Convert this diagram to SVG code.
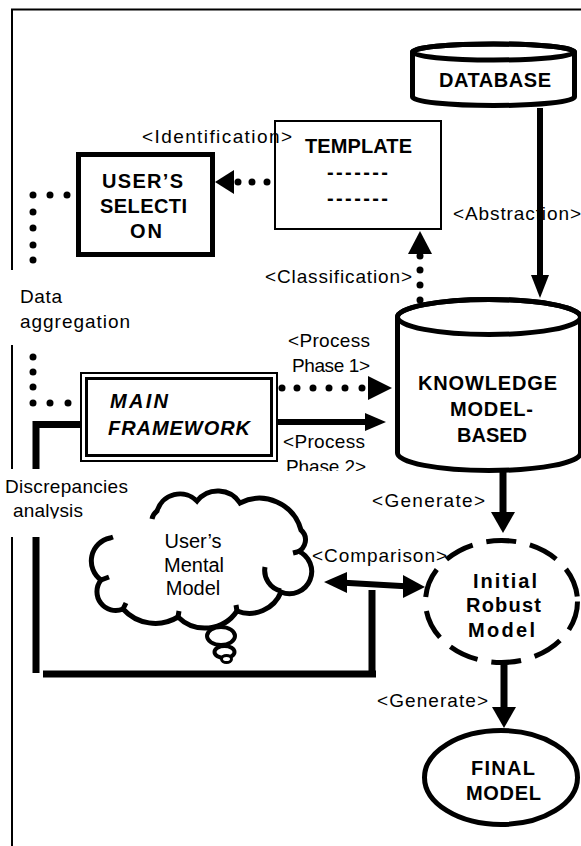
<svg xmlns="http://www.w3.org/2000/svg" width="581" height="846" viewBox="0 0 581 846">
<style>
.frame{stroke:#000;stroke-width:2;fill:none}
.thick{stroke:#000;stroke-width:7;fill:none}
.mid{stroke:#000;stroke-width:6;fill:none}
.ah{fill:#000}
.dot{fill:#000}
.lbl{font-family:"Liberation Sans",Arial,sans-serif;font-size:19px;fill:#000}
.cl{font-family:"Liberation Sans",Arial,sans-serif;font-size:20px;fill:#000}
.b{font-family:"Liberation Sans",Arial,sans-serif;font-size:20px;font-weight:bold;fill:#000}
.bi{font-family:"Liberation Sans",Arial,sans-serif;font-size:20px;font-weight:bold;font-style:italic;fill:#000}
</style>
<defs>
<clipPath id="clipP2"><rect x="270" y="450" width="120" height="21"/></clipPath>
<clipPath id="clipAn"><rect x="0" y="500" width="120" height="18.5"/></clipPath>
<clipPath id="clipMd"><rect x="440" y="618" width="120" height="20"/></clipPath>
</defs>
<rect width="581" height="846" fill="#fff"/>
<g id="frame">
<path class="frame" d="M12,270 V9.5 H581"/>
<line class="frame" x1="12" y1="345" x2="12" y2="469"/>
<line class="frame" x1="12" y1="537" x2="12" y2="846"/>
</g>
<g id="labels">
<text class="lbl" x="142" y="143" textLength="150" lengthAdjust="spacing">&lt;Identification&gt;</text>
<text class="lbl" x="453" y="220" textLength="128" lengthAdjust="spacing">&lt;Abstraction&gt;</text>
<text class="lbl" x="265" y="283" textLength="147" lengthAdjust="spacing">&lt;Classification&gt;</text>
<text class="lbl" x="20" y="303" textLength="42" lengthAdjust="spacing">Data</text>
<text class="lbl" x="20" y="328" textLength="110" lengthAdjust="spacing">aggregation</text>
<text class="lbl" x="288" y="347" textLength="82" lengthAdjust="spacing">&lt;Process</text>
<text class="lbl" x="292" y="372" textLength="78" lengthAdjust="spacing">Phase 1&gt;</text>
<text class="lbl" x="283" y="448" textLength="82" lengthAdjust="spacing">&lt;Process</text>
<text class="lbl" x="286" y="473" textLength="80" lengthAdjust="spacing" clip-path="url(#clipP2)">Phase 2&gt;</text>
<text class="lbl" x="5" y="493" textLength="123" lengthAdjust="spacing">Discrepancies</text>
<text class="lbl" x="13" y="517" textLength="70" lengthAdjust="spacing" clip-path="url(#clipAn)">analysis</text>
<text class="lbl" x="372" y="507" textLength="113" lengthAdjust="spacing">&lt;Generate&gt;</text>
<text class="lbl" x="312" y="562" textLength="135" lengthAdjust="spacing">&lt;Comparison&gt;</text>
<text class="lbl" x="377" y="707" textLength="111" lengthAdjust="spacing">&lt;Generate&gt;</text>
</g>
<g id="connectors">
<line class="mid" x1="540" y1="108" x2="540" y2="278"/>
<polygon class="ah" points="531,275 549,275 540,298"/>
<circle class="dot" cx="267" cy="182" r="3.5"/>
<circle class="dot" cx="252" cy="182" r="3.5"/>
<circle class="dot" cx="238" cy="182" r="3.5"/>
<polygon class="ah" points="234,170 234,194 215,182"/>
<circle class="dot" cx="420" cy="270" r="3.5"/>
<circle class="dot" cx="420" cy="285" r="3.5"/>
<circle class="dot" cx="420" cy="300" r="3.5"/>
<circle class="dot" cx="420" cy="256" r="3.5"/>
<polygon class="ah" points="408,254 432,254 420,231"/>
<circle class="dot" cx="67" cy="195" r="3.5"/>
<circle class="dot" cx="50" cy="195" r="3.5"/>
<circle class="dot" cx="33" cy="195" r="3.5"/>
<circle class="dot" cx="33" cy="212" r="3.5"/>
<circle class="dot" cx="33" cy="228" r="3.5"/>
<circle class="dot" cx="33" cy="245" r="3.5"/>
<circle class="dot" cx="33" cy="260" r="3.5"/>
<circle class="dot" cx="33" cy="357" r="3.5"/>
<circle class="dot" cx="33" cy="372" r="3.5"/>
<circle class="dot" cx="33" cy="387" r="3.5"/>
<circle class="dot" cx="33" cy="403" r="3.5"/>
<circle class="dot" cx="50" cy="403" r="3.5"/>
<circle class="dot" cx="68" cy="403" r="3.5"/>
<circle class="dot" cx="282" cy="388" r="3.5"/>
<circle class="dot" cx="297" cy="388" r="3.5"/>
<circle class="dot" cx="313" cy="388" r="3.5"/>
<circle class="dot" cx="329" cy="388" r="3.5"/>
<circle class="dot" cx="345" cy="388" r="3.5"/>
<circle class="dot" cx="362" cy="388" r="3.5"/>
<polygon class="ah" points="368,376 368,400 392,388"/>
<line class="mid" x1="278" y1="422" x2="367" y2="422"/>
<polygon class="ah" points="365,413 365,431 386,422"/>
<polyline class="thick" points="80,424.5 36,424.5 36,469"/>
<line class="thick" x1="36" y1="537" x2="36" y2="673"/>
<line class="thick" x1="43" y1="674" x2="376" y2="674"/>
<line class="thick" x1="372" y1="677" x2="372" y2="590"/>
<line class="mid" x1="340" y1="582.5" x2="410" y2="586.5"/>
<polygon class="ah" points="347,572 347,593 324,582"/>
<polygon class="ah" points="403,575 403,598 425,587"/>
<line class="thick" x1="503" y1="472" x2="503" y2="515"/>
<polygon class="ah" points="491,512 515,512 503,533"/>
<line class="thick" x1="504" y1="663" x2="504" y2="710"/>
<polygon class="ah" points="492,707 516,707 504,728"/>
</g>
<g id="template">
<rect x="275" y="121" width="166" height="108" fill="none" stroke="#000" stroke-width="2"/>
<text class="b" x="305" y="153" textLength="107" lengthAdjust="spacing">TEMPLATE</text>
<text class="b" x="327" y="179" textLength="61" lengthAdjust="spacing">-------</text>
<text class="b" x="327" y="205" textLength="61" lengthAdjust="spacing">-------</text>
</g>
<g id="database">
<path d="M412.5,52 V97 A81,8.5 0 0 0 574.5,97 V52 A81,8 0 0 0 412.5,52 Z" fill="#fff" stroke="#000" stroke-width="5"/>
<ellipse cx="493.5" cy="52" rx="81" ry="8" fill="none" stroke="#000" stroke-width="5"/>
<text class="b" x="439" y="87" textLength="112" lengthAdjust="spacing">DATABASE</text>
</g>
<g id="users-selection">
<rect x="78.5" y="154.5" width="134" height="100" fill="#fff" stroke="#000" stroke-width="5"/>
<text class="b" x="102" y="188" textLength="81" lengthAdjust="spacing">USER’S</text>
<text class="b" x="100" y="213" textLength="87" lengthAdjust="spacing">SELECTI</text>
<text class="b" x="130" y="238" textLength="32" lengthAdjust="spacing">ON</text>
</g>
<g id="main-framework">
<rect x="81" y="373" width="196" height="88" fill="#fff" stroke="#000" stroke-width="2"/>
<rect x="86.5" y="378.5" width="185" height="77" fill="none" stroke="#000" stroke-width="3"/>
<text class="bi" x="110" y="408" textLength="58" lengthAdjust="spacing">MAIN</text>
<text class="bi" x="108" y="435" textLength="142" lengthAdjust="spacing">FRAMEWORK</text>
</g>
<g id="knowledge">
<path d="M397.5,317 V453 A91.5,17.5 0 0 0 580.5,453 V317 A91.5,17.5 0 0 0 397.5,317 Z" fill="#fff" stroke="#000" stroke-width="5"/>
<ellipse cx="489" cy="317" rx="91.5" ry="17.5" fill="none" stroke="#000" stroke-width="5"/>
<text class="b" x="418" y="390" font-size="21" textLength="139" lengthAdjust="spacing">KNOWLEDGE</text>
<text class="b" x="450" y="416" font-size="21" textLength="83" lengthAdjust="spacing">MODEL-</text>
<text class="b" x="457" y="442" font-size="21" textLength="70" lengthAdjust="spacing">BASED</text>
</g>
<g id="mental-model">
<path fill="none" stroke="#000" stroke-width="5" d="M152,519 Q153,514 157,511 A24,24 0 0 1 197,501 A26.5,26.5 0 0 1 240,503 A43,43 0 0 1 301,530 A13,13 0 0 1 297,552 L293,553"/>
<path fill="none" stroke="#000" stroke-width="5" d="M298,551 A22,22 0 0 1 281,592 A34,34 0 0 1 237,611 A38.5,38.5 0 0 1 178,617 A43.6,43.6 0 0 1 123,609 A18.8,18.8 0 0 1 101,580 A23.5,23.5 0 0 1 110,538 L113,537"/>
<path fill="none" stroke="#000" stroke-width="5" d="M265,567 A21,21 0 0 0 281,591 M123,609 l3,-6 M178,617 l1,-6 M237,611 l-1,-6 M101,580 l8,-3"/>
<ellipse cx="221" cy="636" rx="14" ry="9" fill="#fff" stroke="#000" stroke-width="4"/>
<ellipse cx="224.5" cy="652" rx="10" ry="6" fill="#fff" stroke="#000" stroke-width="4"/>
<ellipse cx="226.5" cy="659" rx="5" ry="3.5" fill="#fff" stroke="#000" stroke-width="3"/>
<text class="cl" x="193" y="548" text-anchor="middle">User’s</text>
<text class="cl" x="194" y="572" text-anchor="middle">Mental</text>
<text class="cl" x="193" y="595" text-anchor="middle">Model</text>
</g>
<g id="initial-robust-model">
<ellipse cx="501.5" cy="601.5" rx="76" ry="61" fill="none" stroke="#000" stroke-width="5" stroke-dasharray="30 14"/>
<text class="b" x="473" y="588" textLength="64" lengthAdjust="spacing">Initial</text>
<text class="b" x="466" y="612" textLength="75" lengthAdjust="spacing">Robust</text>
<text class="b" x="468" y="637" textLength="67" lengthAdjust="spacing" clip-path="url(#clipMd)">Model</text>
</g>
<g id="final-model">
<ellipse cx="501" cy="777.5" rx="76.5" ry="47" fill="#fff" stroke="#000" stroke-width="5"/>
<text class="b" x="471" y="775" textLength="64" lengthAdjust="spacing">FINAL</text>
<text class="b" x="466" y="800" textLength="75" lengthAdjust="spacing">MODEL</text>
</g>
</svg>
